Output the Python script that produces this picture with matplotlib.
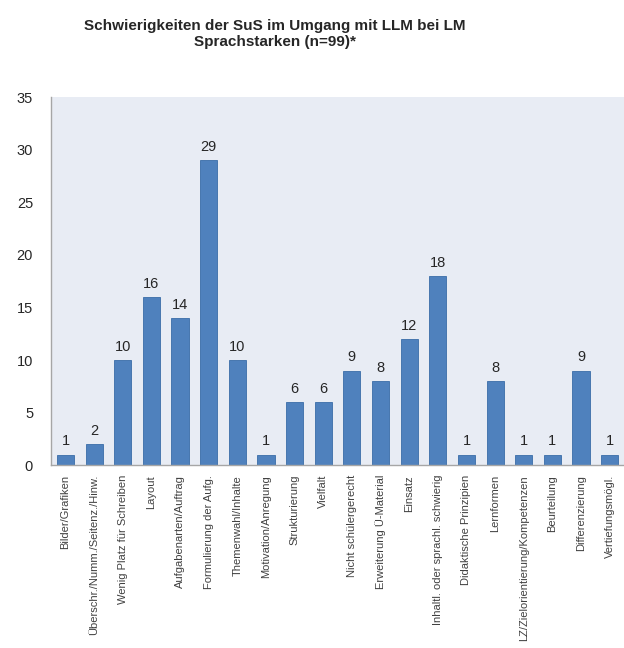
import matplotlib
matplotlib.use("Agg")
import matplotlib.pyplot as plt
import numpy as np

categories = [
    "Bilder/Grafiken",
    "Überschr./Numm./Seitenz./Hinw.",
    "Wenig Platz für Schreiben",
    "Layout",
    "Aufgabenarten/Auftrag",
    "Formulierung der Aufg.",
    "Themenwahl/Inhalte",
    "Motivation/Anregung",
    "Strukturierung",
    "Vielfalt",
    "Nicht schülergerecht",
    "Erweiterung Ü-Material",
    "Einsatz",
    "Inhaltl. oder sprachl. schwierig",
    "Didaktische Prinzipien",
    "Lernformen",
    "LZ/Zielorientierung/Kompetenzen",
    "Beurteilung",
    "Differenzierung",
    "Vertiefungsmögl.",
]
counts = [1, 2, 10, 16, 14, 29, 10, 1, 6, 6, 9, 8, 12, 18, 1, 8, 1, 1, 9, 1]
yticks = [0, 5, 10, 15, 20, 25, 30, 35]

plt.rcParams["font.family"] = ["Liberation Sans", "DejaVu Sans"]

fig = plt.figure(figsize=(6.24, 6.48), dpi=100)
ax = fig.add_axes([0.082, 0.282, 0.918, 0.568])
ax.set_facecolor("#E8ECF4")

x = np.arange(len(categories))
ax.bar(x, counts, width=0.6, color="#4F81BD", edgecolor="#3A6CA8",
       linewidth=0.6)

# value labels above the bars
for xi, v in zip(x, counts):
    ax.text(xi, v + 0.6, str(v), ha="center", va="bottom", fontsize=10.5,
            color="#262626")

ax.set_xlim(-0.5, len(categories) - 0.5)
ax.set_ylim(0, 35)
ax.set_yticks(yticks)
ax.set_xticks(x)
ax.set_xticklabels(categories, rotation=90, fontsize=8, color="#404040")
ax.tick_params(axis="y", labelsize=10.5, length=0, pad=13, labelcolor="#262626")
ax.tick_params(axis="x", length=0, pad=7)

for side in ("top", "right"):
    ax.spines[side].set_visible(False)
for side in ("left", "bottom"):
    ax.spines[side].set_color("#A6A6A6")
    ax.spines[side].set_linewidth(1.0)

fig.text(0.44, 0.948, "Schwierigkeiten der SuS im Umgang mit LLM bei LM\n"
         "Sprachstarken (n=99)*", ha="center", va="center", fontsize=11,
         fontweight="bold", color="#262626", linespacing=1.15)

fig.savefig("out.png", dpi=100, facecolor="white")
